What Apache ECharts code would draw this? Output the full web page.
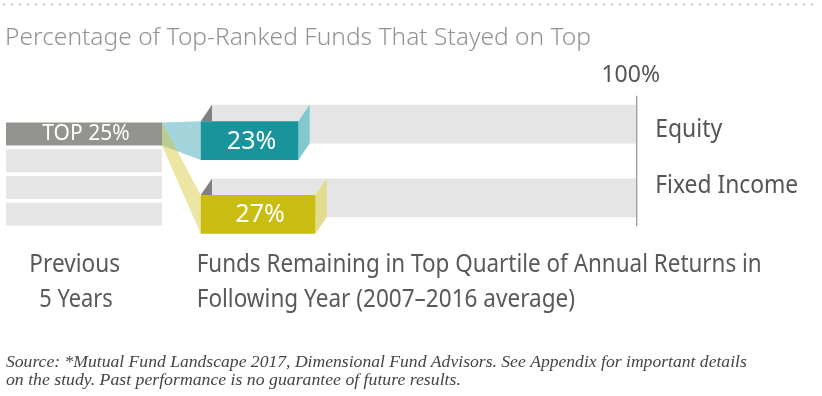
<!DOCTYPE html>
<html><head><meta charset="utf-8">
<script src="https://cdn.jsdelivr.net/npm/echarts@6/dist/echarts.min.js"></script>
<style>html,body{margin:0;padding:0;background:#fff}#c{width:822px;height:396px}</style>
</head><body><div id="c"></div>
<script>
// ---- data ----
const categories = ['Equity', 'Fixed Income'];
const stayedOnTop = [23, 27];
const quartileLabels = ['TOP 25%', '', '', ''];
const quartileValues = [100, 100, 100, 100];
const xTickLabels = ['', '100%'];
const titleText = 'Percentage of Top-Ranked Funds That Stayed on Top';
const leftCaption = ['Previous', '5 Years'];
const bottomCaption = ['Funds Remaining in Top Quartile of Annual Returns in', 'Following Year (2007\u20132016 average)'];
const sourceLines = [
  'Source: *Mutual Fund Landscape 2017, Dimensional Fund Advisors. See Appendix for important details',
  'on the study. Past performance is no guarantee of future results.'
];

// ---- style ----
const SANS = '"Noto Sans", "Open Sans", sans-serif';
const SERIF = '"Liberation Serif", "DejaVu Serif", serif';
const faceColors = ['#1a949c', '#c9bd12'];
const sideColors = ['#82c9cf', '#e3dc8f'];
const connectorColors = ['#a4d4db', 'rgba(212,198,50,0.45)'];
const DX = 11.3, DY = 16.5, BH = 38.8, QH = 23;

const chart = echarts.init(document.getElementById('c'), null, {renderer: 'canvas', width: 822, height: 396});

function renderBar(params, api) {
  const i = api.value(1);
  const v = api.value(0);
  const p0 = api.coord([0, i]);
  const p100 = api.coord([100, i]);
  const pv = api.coord([v, i]);
  const backTop = p0[1] - BH / 2, backBot = backTop + BH;
  const frontTop = backTop + DY, frontBot = frontTop + BH;
  const fl = p0[0] - DX, fr = pv[0] - DX;
  return {
    type: 'group',
    children: [
      {type: 'rect', shape: {x: p0[0], y: backTop, width: p100[0] - p0[0], height: BH}, style: {fill: '#e5e5e5'}},
      {type: 'polygon', shape: {points: [[fl, frontTop], [p0[0], backTop], [p0[0], frontTop]]}, style: {fill: '#7f7f7f'}},
      {type: 'polygon', shape: {points: [[fr, frontTop], [pv[0], backTop], [pv[0], backBot], [fr, frontBot]]}, style: {fill: sideColors[i]}},
      {type: 'rect', shape: {x: fl, y: frontTop, width: fr - fl, height: BH}, style: {fill: faceColors[i]}},
      {type: 'text', x: (fl + fr) / 2 + 2, y: (frontTop + frontBot) / 2 + 1,
        style: {text: v + '%', fill: '#fff', font: 'normal 25px ' + SANS, textAlign: 'center', textVerticalAlign: 'middle'}}
    ]
  };
}

const option = {
  animation: false,
  grid: [
    {left: 212, right: 185.3, top: 87.4, height: 147.2},
    {left: 6, width: 156, top: 120.5, height: 107}
  ],
  xAxis: [
    {gridIndex: 0, type: 'value', min: 0, max: 100, interval: 100, position: 'top',
      axisLine: {show: false}, axisTick: {show: false}, splitLine: {show: false},
      axisLabel: {show: true, margin: 0, fontSize: 23, fontFamily: SANS, color: '#555', padding: [0, 12, 0, 0],
        formatter: v => xTickLabels[Math.round(v / 100)] || ''}},
    {gridIndex: 1, type: 'value', min: 0, max: 100, show: false}
  ],
  yAxis: [
    {gridIndex: 0, type: 'category', data: categories, inverse: true, show: false},
    {gridIndex: 1, type: 'category', data: quartileLabels.map((_, i) => 'Q' + (i + 1)), inverse: true, show: false}
  ],
  series: [
    {type: 'custom', xAxisIndex: 0, yAxisIndex: 0, renderItem: renderBar,
      data: stayedOnTop.map((v, i) => [v, i]), encode: {x: 0, y: 1}},
    {type: 'bar', xAxisIndex: 1, yAxisIndex: 1, barWidth: QH, silent: true,
      label: {position: 'inside', color: '#fff', fontSize: 21, fontFamily: SANS, offset: [2, 0]},
      data: quartileValues.map((v, i) => ({
        value: v,
        itemStyle: {color: i === 0 ? '#93938f' : '#e6e6e6'},
        label: {show: !!quartileLabels[i], formatter: quartileLabels[i] || ' '}
      }))}
  ]
};
chart.setOption(option);

// ---- second pass: annotations placed from the axes' own pixel mapping ----
const mctx = document.createElement('canvas').getContext('2d');
function sansText(text, o) {
  const font = (o.weight || 'normal') + ' ' + o.size + 'px ' + SANS;
  mctx.font = font;
  const w = mctx.measureText(text).width;
  return {type: 'text', x: o.x, y: o.capY + 0.072 * o.size, scaleX: o.width ? o.width / w : 1, z: 10,
    style: {text: text, font: font, fill: o.color, textAlign: o.align || 'left', textVerticalAlign: 'middle'}};
}
function serifText(text, o) {
  mctx.font = 'italic normal 17px ' + SERIF;
  const size = 17 * o.width / mctx.measureText(text).width;
  return {type: 'text', x: o.x, y: o.baseY - 0.305 * size, z: 10,
    style: {text: text, font: 'italic normal ' + size.toFixed(2) + 'px ' + SERIF, fill: o.color, textAlign: 'left', textVerticalAlign: 'middle'}};
}

const topMid = chart.convertToPixel({gridIndex: 1}, [100, 0]);
const boxTop = topMid[1] - QH / 2, boxBot = topMid[1] + QH / 2, boxRight = topMid[0];
const bars = categories.map((c, i) => {
  const p = chart.convertToPixel({gridIndex: 0}, [0, i]);
  return {x: p[0] - DX, top: p[1] - BH / 2 + DY, bot: p[1] + BH / 2 + DY, backTop: p[1] - BH / 2, backBot: p[1] + BH / 2};
});
const x100 = chart.convertToPixel({gridIndex: 0}, [100, 0])[0];

const catLabelY = [128, 184];
const graphics = [
  {type: 'line', shape: {x1: 4, y1: 4.5, x2: 818, y2: 4.5}, style: {stroke: '#b5b5b5', lineWidth: 2, lineDash: [0.1, 7.9], lineCap: 'round'}},
  sansText(titleText, {x: 5, capY: 36.7, size: 23.5, weight: 300, color: '#939393', width: 586}),
  {type: 'polygon', z: 1, shape: {points: [[boxRight, boxTop], [bars[0].x, bars[0].top], [bars[0].x, bars[0].bot], [boxRight, boxBot]]}, style: {fill: connectorColors[0]}},
  {type: 'polygon', z: 1, shape: {points: [[boxRight, boxTop], [bars[1].x, bars[1].top], [bars[1].x, bars[1].bot], [boxRight, boxBot]]}, style: {fill: connectorColors[1]}},
  {type: 'line', z: 5, shape: {x1: x100, y1: bars[0].backTop - 9, x2: x100, y2: bars[bars.length - 1].backBot + 9}, style: {stroke: '#9b9b9b', lineWidth: 1.3}},
  sansText(categories[0], {x: x100 + 18.5, capY: catLabelY[0], size: 24.5, color: '#555', width: 67}),
  sansText(categories[1], {x: x100 + 18.5, capY: catLabelY[1], size: 24.5, color: '#555', width: 143}),
  sansText(leftCaption[0], {x: 74.7, capY: 263.5, size: 24.5, color: '#58595b', width: 90.7, align: 'center'}),
  sansText(leftCaption[1], {x: 76, capY: 298.3, size: 24.5, color: '#58595b', width: 73.4, align: 'center'}),
  sansText(bottomCaption[0], {x: 196.7, capY: 263.5, size: 24.5, color: '#58595b', width: 565}),
  sansText(bottomCaption[1], {x: 196.7, capY: 298.3, size: 24.5, color: '#58595b', width: 378.3}),
  serifText(sourceLines[0], {x: 6, baseY: 367.7, color: '#444', width: 741}),
  serifText(sourceLines[1], {x: 6, baseY: 386, color: '#444', width: 455})
];
chart.setOption({graphic: {elements: graphics}});
</script>
</body></html>
